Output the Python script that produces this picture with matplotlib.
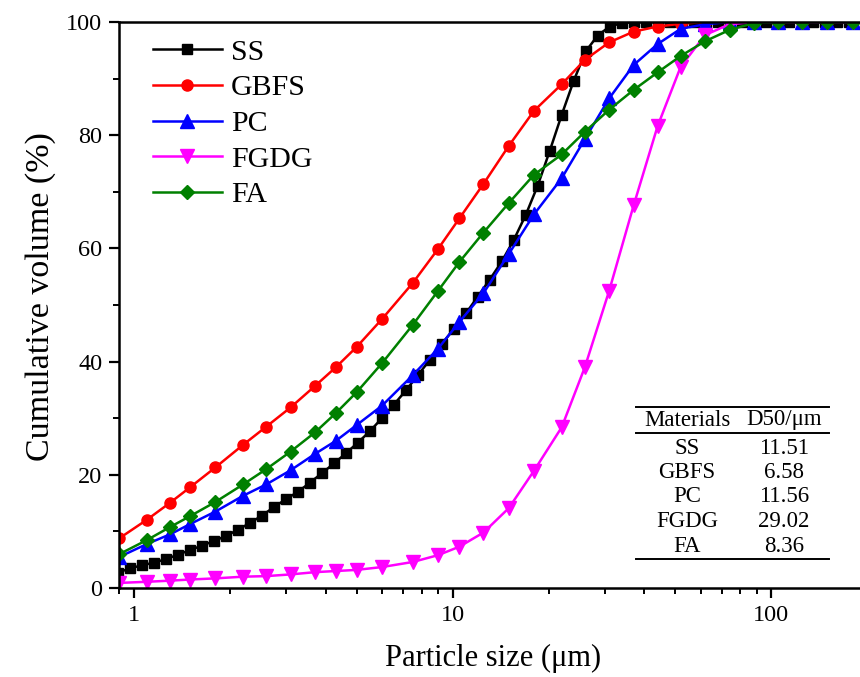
import matplotlib
matplotlib.use("Agg")
import matplotlib.pyplot as plt
from matplotlib.lines import Line2D

plt.rcParams['font.family'] = ['Liberation Serif', 'DejaVu Serif']

# ---- data ----
# Standard size classes (µm) shared by GBFS, PC, FGDG, FA
sizes_std = [0.9, 1.1, 1.3, 1.5, 1.8, 2.2, 2.6, 3.1, 3.7, 4.3, 5.0, 6.0, 7.5, 9.0,
             10.5, 12.5, 15, 18, 22, 26, 31, 37, 44, 52, 62, 74, 88, 105, 125, 150, 180]
# SS measured on a finer channel grid (µm)
sizes_ss = [0.891, 0.972, 1.06, 1.156, 1.261, 1.375, 1.499, 1.635, 1.783, 1.945,
            2.121, 2.312, 2.522, 2.750, 2.999, 3.270, 3.566, 3.889, 4.241, 4.625,
            5.044, 5.500, 5.998, 6.541, 7.133, 7.778, 8.482, 9.250, 10.09, 11.00,
            12.00, 13.08, 14.27, 15.56, 16.96, 18.50, 20.17, 22.00, 23.99, 26.16,
            28.53, 31.11, 33.93, 37.00, 40.35, 44.00, 47.98, 52.33, 57.06, 62.23,
            67.86, 74.00, 80.70, 88.00, 95.97, 104.7, 114.1, 124.5, 135.7, 148.0,
            161.4, 176.0]

ss = [2.7, 3.5, 4.0, 4.5, 5.1, 5.9, 6.7, 7.5, 8.3, 9.2,
      10.3, 11.5, 12.8, 14.3, 15.7, 17.0, 18.6, 20.3, 22.0, 23.8,
      25.7, 27.7, 30.0, 32.4, 34.9, 37.6, 40.3, 43.1, 45.8, 48.5,
      51.5, 54.5, 57.7, 61.5, 65.9, 71.1, 77.2, 83.6, 89.6, 94.8,
      97.6, 99.2, 99.8, 100, 100, 100, 100, 100, 100, 100,
      100, 100, 100, 100, 100, 100, 100, 100, 100, 100,
      100, 100]
gbfs = [8.8, 12.1, 15.1, 17.8, 21.3, 25.3, 28.5, 31.9, 35.7, 39.0, 42.6, 47.5, 53.9, 59.9,
        65.3, 71.4, 78.1, 84.3, 89.0, 93.3, 96.4, 98.3, 99.2, 99.7, 100, 100, 100, 100, 100, 100, 100]
pc = [5.5, 7.8, 9.5, 11.3, 13.5, 16.3, 18.3, 20.8, 23.7, 26.0, 28.8, 32.2, 37.6, 42.3,
      47.0, 52.1, 59.0, 66.0, 72.4, 79.3, 86.5, 92.4, 96.1, 98.8, 99.6, 100, 100, 100, 100, 100, 100]
fgdg = [0.9, 1.1, 1.3, 1.5, 1.7, 2.0, 2.1, 2.4, 2.8, 3.0, 3.2, 3.7, 4.6, 5.8,
        7.3, 9.8, 14.1, 20.7, 28.4, 39.0, 52.5, 67.6, 81.6, 92.1, 97.7, 99.6, 100, 100, 100, 100, 100]
fa = [6.0, 8.5, 10.8, 12.7, 15.2, 18.3, 21.0, 24.1, 27.5, 30.9, 34.6, 39.7, 46.5, 52.5,
      57.6, 62.8, 68.0, 73.0, 76.6, 80.6, 84.5, 88.0, 91.1, 94.0, 96.6, 98.6, 99.8, 100, 100, 100, 100]

table_materials = ["SS", "GBFS", "PC", "FGDG", "FA"]
table_d50 = ["11.51", "6.58", "11.56", "29.02", "8.36"]

# ---- figure ----
W, H = 860, 677
fig = plt.figure(figsize=(W / 100, H / 100), dpi=100)
ax_l, ax_r, ax_t, ax_b = 119, 860, 22, 588
ax = fig.add_axes([ax_l / W, 1 - ax_b / H, (ax_r - ax_l) / W, (ax_b - ax_t) / H])

lw = 1.8
ax.plot(sizes_ss, ss, color='black', marker='s', markersize=7, lw=lw, label='SS')
ax.plot(sizes_std, gbfs, color='#ff0000', marker='o', markersize=8, lw=lw, label='GBFS')
ax.plot(sizes_std, pc, color='#0000ff', marker='^', markersize=9.5, lw=lw, label='PC')
ax.plot(sizes_std, fgdg, color='#ff00ff', marker='v', markersize=9.5, lw=lw, label='FGDG')
ax.plot(sizes_std, fa, color='#008000', marker='D', markersize=7, lw=lw, label='FA')

ax.set_xscale('log')
ax.set_xlim(0.897, 190)
ax.set_ylim(0, 100)
ax.set_yticks([0, 20, 40, 60, 80, 100])
ax.set_yticks([10, 30, 50, 70, 90], minor=True)
ax.set_xticks([1, 10, 100])
ax.set_xticklabels(['1', '10', '100'])

ax.spines['right'].set_visible(False)
for s in ['left', 'bottom', 'top']:
    ax.spines[s].set_linewidth(1.8)
ax.tick_params(which='major', direction='out', length=7, width=1.6, labelsize=17.5, pad=5)
ax.tick_params(which='minor', direction='out', length=4.5, width=1.4)
ax.tick_params(axis='x', which='both', top=False)

ax.set_xlabel('Particle size (μm)', fontsize=22)
ax.set_ylabel('Cumulative volume (%)', fontsize=24.5)
ax.xaxis.set_label_coords((493 - ax_l) / (ax_r - ax_l), (ax_b - 644) / (ax_b - ax_t))
ax.yaxis.set_label_coords((56 - ax_l) / (ax_r - ax_l), (ax_b - 297) / (ax_b - ax_t))

leg = ax.legend(loc='upper left',
                bbox_to_anchor=((153 - ax_l) / (ax_r - ax_l), (ax_b - 39) / (ax_b - ax_t)),
                frameon=False, fontsize=21.5, handlelength=2.3, handletextpad=0.3,
                labelspacing=0.29, borderpad=0, borderaxespad=0)

# ---- table (drawn in figure pixel coordinates) ----
def fx(px):
    return px / W

def fy(py):
    return 1 - py / H

tx0, tx1 = 636, 829
for yy in (406.5, 432.5, 558.5):
    fig.add_artist(Line2D([fx(tx0), fx(tx1)], [fy(yy), fy(yy)], color='black', lw=1.4,
                          transform=fig.transFigure))
col1, col2 = 687, 784
fig.text(fx(col1), fy(420), 'Materials', ha='center', va='center', fontsize=16.5)
fig.text(fx(col2), fy(420), 'D50/μm', ha='center', va='center', fontsize=16.5)
row_y = [448, 472.5, 497, 521.5, 546]
for ry, m, d in zip(row_y, table_materials, table_d50):
    fig.text(fx(col1), fy(ry), m, ha='center', va='center', fontsize=16.5)
    fig.text(fx(col2), fy(ry), d, ha='center', va='center', fontsize=16.5)

fig.savefig('out.png', dpi=100, facecolor='white')
